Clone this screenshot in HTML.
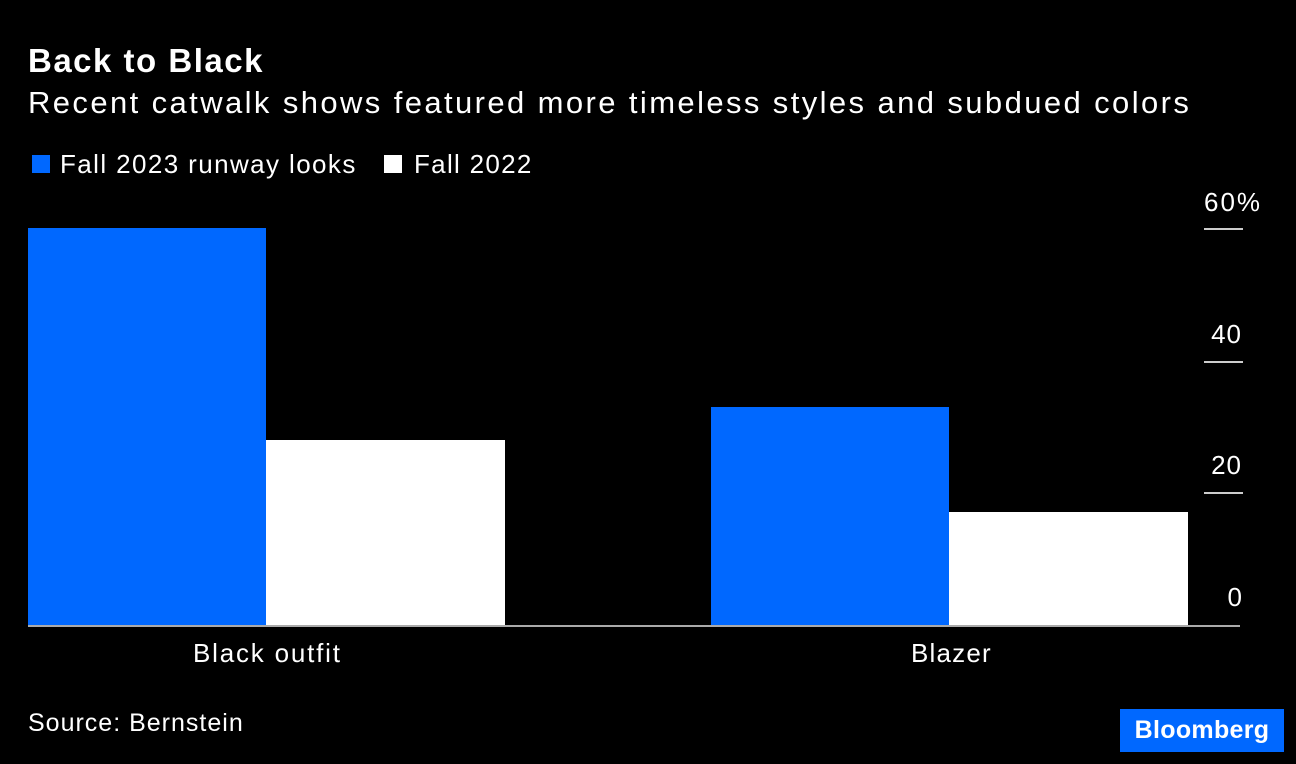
<!DOCTYPE html>
<html><head><style>
body{margin:0;width:1296px;height:764px;background:#000;overflow:hidden;position:relative;font-family:"Liberation Sans",sans-serif;color:#fff}
div{position:absolute}
.t{white-space:nowrap}
.r{text-align:right;width:100px}
</style></head><body>
<div class="t" style="left:28px;top:42px;font-size:33px;font-weight:bold;letter-spacing:1.5px">Back to Black</div>
<div class="t" style="left:28px;top:85px;font-size:31px;letter-spacing:2.4px">Recent catwalk shows featured more timeless styles and subdued colors</div>
<div style="left:32px;top:155px;width:18px;height:18px;background:#0068ff"></div>
<div class="t" style="left:60px;top:149px;font-size:26px;letter-spacing:1.4px">Fall 2023 runway looks</div>
<div style="left:384px;top:155px;width:18px;height:18px;background:#fff"></div>
<div class="t" style="left:414px;top:149px;font-size:26px;letter-spacing:1.3px">Fall 2022</div>

<div style="left:28px;top:228px;width:238px;height:397px;background:#0068ff"></div>
<div style="left:266px;top:440px;width:239px;height:185px;background:#fff"></div>
<div style="left:711px;top:407px;width:238px;height:218px;background:#0068ff"></div>
<div style="left:949px;top:512px;width:239px;height:113px;background:#fff"></div>
<div style="left:28px;top:625px;width:1212px;height:2px;background:#aaa"></div>

<div class="t" style="left:1204px;top:187px;font-size:26px;letter-spacing:2px">60%</div>
<div class="t r" style="left:1142px;top:319px;font-size:26px;letter-spacing:1px">40</div>
<div class="t r" style="left:1142px;top:450px;font-size:26px;letter-spacing:1px">20</div>
<div class="t r" style="left:1142px;top:582px;font-size:26px">0</div>
<div style="left:1204px;top:228px;width:39px;height:2px;background:#ccc"></div>
<div style="left:1204px;top:361px;width:39px;height:2px;background:#ccc"></div>
<div style="left:1204px;top:492px;width:39px;height:2px;background:#ccc"></div>

<div class="t" style="left:193px;top:638px;font-size:26px;letter-spacing:1.8px">Black outfit</div>
<div class="t" style="left:911px;top:638px;font-size:26px;letter-spacing:1.2px">Blazer</div>
<div class="t" style="left:28px;top:709px;font-size:25px;letter-spacing:1px">Source: Bernstein</div>
<div class="t" style="left:1120px;top:709px;width:164px;height:43px;background:#0068ff;font-size:25px;font-weight:bold;text-align:center;line-height:43px;letter-spacing:0.3px">Bloomberg</div>
</body></html>
